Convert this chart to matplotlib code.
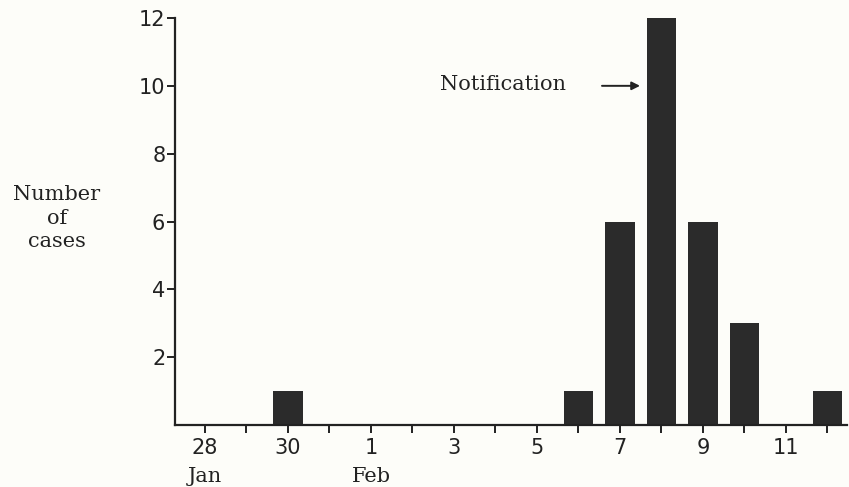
import matplotlib
matplotlib.use("Agg")
import matplotlib.pyplot as plt
from matplotlib.transforms import blended_transform_factory

# Data
days = ["28", "29", "30", "31", "1", "2", "3", "4", "5", "6", "7", "8", "9", "10", "11", "12"]
cases = [0, 0, 1, 0, 0, 0, 0, 0, 0, 1, 6, 12, 6, 3, 0, 1]
labelled_days = ["28", "30", "1", "3", "5", "7", "9", "11"]
month_labels = {"28": "Jan", "1": "Feb"}
y_ticks = [2, 4, 6, 8, 10, 12]
notify_day = "8"

bg = "#fdfdf9"
ink = "#222222"

fig = plt.figure(figsize=(8.49, 4.87), dpi=100, facecolor=bg)
ax = fig.add_axes([175/849, 1-425/487, (847-175)/849, (425-18)/487])
ax.set_facecolor(bg)

x = list(range(len(days)))
ax.bar(x, cases, width=0.72, color="#2b2b2b", edgecolor="none")

ax.set_xlim(-0.72, 15.47)
ax.set_ylim(0, 12)

for s in ["top", "right"]:
    ax.spines[s].set_visible(False)
for s in ["left", "bottom"]:
    ax.spines[s].set_color(ink)
    ax.spines[s].set_linewidth(1.6)

tick_font = dict(fontsize=15, family="DejaVu Sans", color=ink)
ax.set_yticks(y_ticks)
ax.set_yticklabels([str(v) for v in y_ticks], **tick_font)
ax.set_xticks(x)
ax.set_xticklabels([d if d in labelled_days else "" for d in days], **tick_font)
ax.tick_params(axis="both", direction="out", length=6, width=1.4, color=ink)
ax.tick_params(axis="y", pad=1)
ax.tick_params(axis="x", pad=3)

word_font = dict(fontsize=15, family="DejaVu Serif", color=ink)
trans = blended_transform_factory(ax.transData, fig.transFigure)
for i, d in enumerate(days):
    if d in month_labels:
        ax.text(i, 1-476/487, month_labels[d], transform=trans,
                ha="center", va="center", **word_font)

fig.text(57/849, 1-218/487, "Number\nof\ncases", ha="center", va="center",
         linespacing=1.3, **word_font)

ni = days.index(notify_day)
ax.annotate("", xy=(ni - 0.45, 10.0), xytext=(ni - 1.5, 10.0),
            arrowprops=dict(arrowstyle="-|>", color=ink, lw=1.4, mutation_scale=12))
ax.text(ni - 2.3, 10.05, "Notification", ha="right", va="center", **word_font)

fig.savefig("out.png", dpi=100, facecolor=bg)
